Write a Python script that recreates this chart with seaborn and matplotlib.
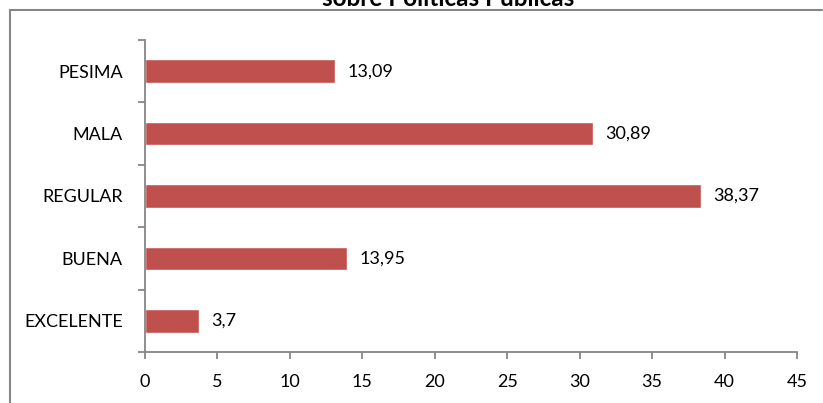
import matplotlib
matplotlib.use("Agg")
import matplotlib.pyplot as plt
import seaborn as sns
import pandas as pd
from matplotlib.lines import Line2D
from matplotlib.ticker import FixedLocator

categories = ["PESIMA", "MALA", "REGULAR", "BUENA", "EXCELENTE"]
values = [13.09, 30.89, 38.37, 13.95, 3.7]
value_labels = ["13,09", "30,89", "38,37", "13,95", "3,7"]
x_ticks = [0, 5, 10, 15, 20, 25, 30, 35, 40, 45]
title = "sobre Políticas Públicas"

sns.set_theme(style="white")
plt.rcParams["font.family"] = ["Lato", "DejaVu Sans"]

W, H = 823, 403
fig = plt.figure(figsize=(W / 100, H / 100), dpi=100)
ax = fig.add_axes([145 / W, (H - 352) / H, (797 - 145) / W, (352 - 40) / H])

df = pd.DataFrame({"cat": categories, "val": values})
sns.barplot(data=df, y="cat", x="val", order=categories, color="#C0504D",
            saturation=1, width=0.38, ax=ax, orient="h")

ax.set_xlim(0, 45)
ax.set_ylim(4.5, -0.5)
ax.set_xlabel("")
ax.set_ylabel("")

FS = 13
spine_c = "#868686"
for s in ["top", "right"]:
    ax.spines[s].set_visible(False)
for s in ["left", "bottom"]:
    ax.spines[s].set_color(spine_c)
    ax.spines[s].set_linewidth(1.3)

ax.set_xticks(x_ticks)
ax.set_xticklabels([str(t) for t in x_ticks], fontsize=FS)
ax.tick_params(axis="x", direction="out", length=5, width=1.3, color=spine_c,
               pad=11, labelcolor="black", bottom=True)

ax.yaxis.set_major_locator(FixedLocator([-0.5, 0.5, 1.5, 2.5, 3.5, 4.5]))
ax.yaxis.set_minor_locator(FixedLocator(list(range(len(categories)))))
ax.set_yticklabels([""] * 6)
ax.set_yticklabels(categories, minor=True, fontsize=FS)
ax.tick_params(axis="y", which="major", direction="out", length=5, width=1.3,
               color=spine_c, left=True)
ax.tick_params(axis="y", which="minor", length=0, pad=16, labelcolor="black", left=True)

for i, (v, lab) in enumerate(zip(values, value_labels)):
    ax.annotate(lab, xy=(v, i), xytext=(9, 0), textcoords="offset points",
                va="center", ha="left", fontsize=FS, color="black")

# outer chart frame (partially cropped)
fig.add_artist(Line2D([10 / W, 822 / W], [1 - 10 / H, 1 - 10 / H],
                      transform=fig.transFigure, color=spine_c, lw=1.5))
fig.add_artist(Line2D([10 / W, 10 / W], [0, 1 - 10 / H],
                      transform=fig.transFigure, color=spine_c, lw=1.5))

fig.text(448 / W, 1 - 6 / H, title, ha="center", va="baseline",
         fontsize=17.5, fontweight="bold", color="black")

fig.savefig("out.png", dpi=100)
